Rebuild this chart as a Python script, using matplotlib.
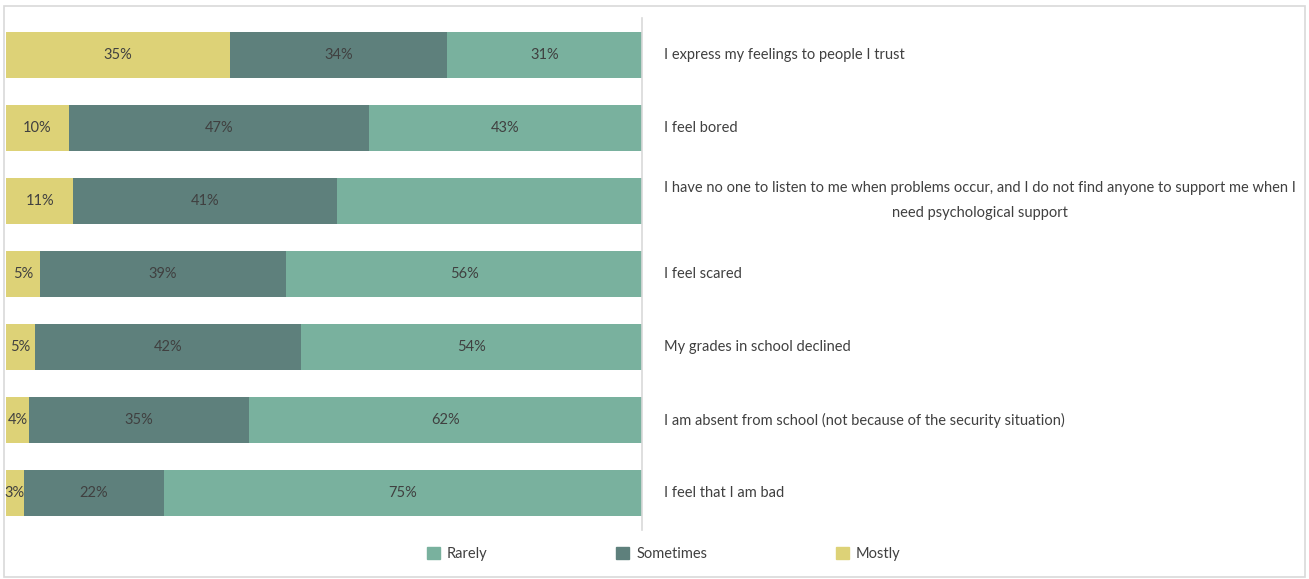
import matplotlib
matplotlib.use('Agg')
import matplotlib.pyplot as plt
from matplotlib.patches import Rectangle, Patch
import numpy as np

statements = [
    'I express my feelings to people I trust',
    'I feel bored',
    'I have no one to listen to me when problems occur, and I do not find anyone to support me when I\nneed psychological support',
    'I feel scared',
    'My grades in school declined',
    'I am absent from school (not because of the security situation)',
    'I feel that I am bad',
]
# shares in % (labels show them rounded)
mostly = [35.2, 9.9, 10.6, 5.3, 4.6, 3.6, 2.8]
sometimes = [34.1, 47.2, 41.4, 38.8, 41.8, 34.6, 22.0]
rarely = [30.7, 42.9, 48.0, 55.9, 53.6, 61.8, 75.2]
rarely_shown = [True, True, False, True, True, True, True]

C_MOSTLY = '#DDD277'
C_SOMETIMES = '#5E807C'
C_RARELY = '#79B19E'
TXT = '#404040'

plt.rcParams['font.family'] = ['Lato', 'DejaVu Sans']

fig = plt.figure(figsize=(13.09, 5.79), dpi=100)
ax = fig.add_axes([6/1309, 1-530/579, 636/1309, 512/579])

y = np.arange(len(statements))
h = 0.63
m = np.array(mostly); s = np.array(sometimes); r = np.array(rarely)
ax.barh(y, m, h, color=C_MOSTLY, label='Mostly')
ax.barh(y, s, h, left=m, color=C_SOMETIMES, label='Sometimes')
ax.barh(y, r, h, left=m+s, color=C_RARELY, label='Rarely')

for i in range(len(y)):
    ax.text(m[i]/2, y[i], f'{m[i]:.0f}%', ha='center', va='center', color=TXT, fontsize=10.5)
    ax.text(m[i]+s[i]/2, y[i], f'{s[i]:.0f}%', ha='center', va='center', color=TXT, fontsize=10.5)
    if rarely_shown[i]:
        ax.text(m[i]+s[i]+r[i]/2, y[i], f'{r[i]:.0f}%', ha='center', va='center', color=TXT, fontsize=10.5)

ax.set_xlim(0, 100)
ax.set_ylim(len(y)-0.5, -0.5)
ax.set_xticks([])
ax.set_yticks(y)
ax.set_yticklabels(statements, fontsize=10.5, color=TXT)
ax.yaxis.tick_right()
ax.tick_params(axis='y', length=0, pad=16)
for lab in ax.get_yticklabels():
    lab.set_multialignment('center')
    lab.set_linespacing(2.0)
    lab.set_va('center')
for sp in ['top', 'bottom', 'left']:
    ax.spines[sp].set_visible(False)
ax.spines['right'].set_color('#D9D9D9')
ax.spines['right'].set_linewidth(1.2)

handles = [Patch(color=C_RARELY), Patch(color=C_SOMETIMES), Patch(color=C_MOSTLY)]
fig.legend(handles, ['Rarely', 'Sometimes', 'Mostly'], loc='center', bbox_to_anchor=(0.507, 1-554/579),
           ncol=3, frameon=False, fontsize=10.5, labelcolor=TXT, columnspacing=8.8,
           handlelength=0.9, handleheight=0.9, handletextpad=0.5)

fig.patches.append(Rectangle((4/1309, 2/579), 1301/1309, 571/579, transform=fig.transFigure,
                             fill=False, edgecolor='#D9D9D9', linewidth=1.2))

fig.savefig('out.png', dpi=100)
